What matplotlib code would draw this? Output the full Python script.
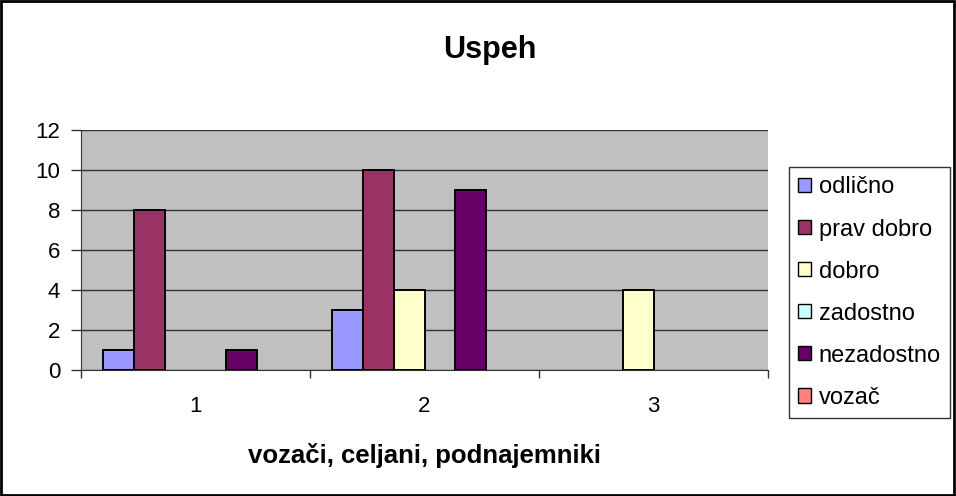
import numpy as np
import matplotlib.pyplot as plt
from matplotlib.patches import Rectangle

plt.rcParams['font.family'] = ['Liberation Sans', 'DejaVu Sans']

categories = ['1', '2', '3']
series_names = ['odlično', 'prav dobro', 'dobro', 'zadostno', 'nezadostno', 'vozač']
odlicno = [1, 3, 0]
prav_dobro = [8, 10, 0]
dobro = [0, 4, 4]
zadostno = [0, 0, 0]
nezadostno = [1, 9, 0]
vozac = [0, 0, 0]
colors = ['#9999FF', '#993366', '#FFFFCC', '#CCFFFF', '#660066', '#FF8080']

series = [odlicno, prav_dobro, dobro, zadostno, nezadostno, vozac]

fig = plt.figure(figsize=(9.56, 4.96), dpi=100)
ax = fig.add_axes([81 / 956, 126 / 496, 687 / 956, 240 / 496])
ax.set_facecolor('#C0C0C0')

x = np.arange(len(categories))
width = 0.134
for i, (name, vals) in enumerate(zip(series_names, series)):
    offs = (i - 2.5) * width
    bars = ax.bar(x + offs, vals, width, color=colors[i], edgecolor='black',
                  linewidth=1.4, label=name, zorder=3)
    # excel draws nothing for empty values
    for b, v in zip(bars, vals):
        if v == 0:
            b.set_visible(False)

ax.set_xlim(-0.5, 2.5)
ax.set_ylim(0, 12)
ax.set_yticks(range(0, 13, 2))
ax.yaxis.grid(True, color='#333333', linewidth=1.0, zorder=1)
ax.set_axisbelow(True)

# category labels centred, tick marks at category boundaries
ax.set_xticks(x)
ax.set_xticklabels(categories, fontsize=16)
ax.tick_params(axis='x', length=0, pad=19)
ax.set_xticks([-0.5, 0.5, 1.5, 2.5], minor=True)
ax.tick_params(axis='x', which='minor', length=6, width=1, color='#333333')
ax.tick_params(axis='y', length=7, width=1, color='#333333', labelsize=16, pad=8)

for s in ['top', 'right']:
    ax.spines[s].set_visible(False)
ax.spines['left'].set_color('#333333')
ax.spines['bottom'].set_color('#333333')

ax.set_xlabel('vozači, celjani, podnajemniki', fontsize=18.5, fontweight='bold')
ax.xaxis.set_label_coords(0.5, -85 / 240)
ax.xaxis.label.set_va('center')

fig.text(490 / 956, 1 - 50 / 496, 'Uspeh', ha='center', va='center',
         fontsize=22, fontweight='bold')

leg = ax.legend(loc='upper left', bbox_to_anchor=(789 / 956, 1 - 167 / 496),
                bbox_transform=fig.transFigure, frameon=True, fancybox=False,
                fontsize=17, handlelength=0.55, handleheight=0.55,
                handletextpad=0.3, labelspacing=0.85, borderpad=0.4,
                borderaxespad=0, edgecolor='black')
leg.get_frame().set_linewidth(1.0)
for h in leg.legend_handles:
    h.set_linewidth(1.0)
    h.set_visible(True)

fig.patches.append(Rectangle((0.001, 0.002), 0.997, 0.996, transform=fig.transFigure,
                             fill=False, edgecolor='black', linewidth=2))

plt.savefig('out.png', dpi=100)
